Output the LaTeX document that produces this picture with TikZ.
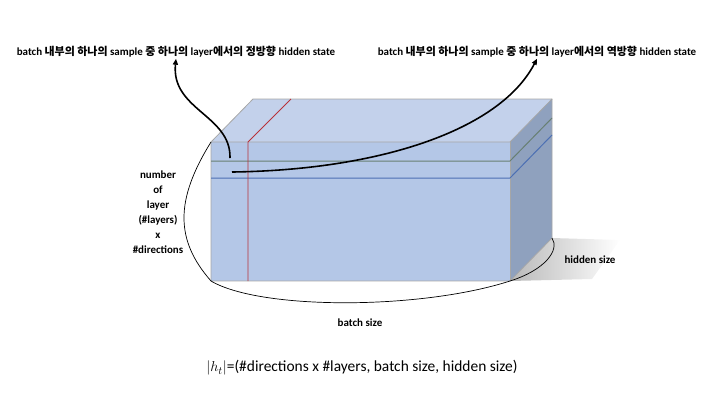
\documentclass[tikz,border=0pt]{standalone}
\usepackage{fontspec}
\setmainfont{Carlito}
\newfontfamily\kr{Noto Sans CJK KR}
\usetikzlibrary{arrows.meta}

\definecolor{frontblue}{HTML}{B4C7E7}
\definecolor{topblue}{HTML}{C3D1EB}
\definecolor{sideblue}{HTML}{8FA1BE}
\definecolor{edgegray}{HTML}{A6A6A6}
\definecolor{layergreen}{HTML}{687F72}
\definecolor{layerblue}{HTML}{4C6FB3}
\definecolor{batchred}{HTML}{B8323A}

\begin{document}
\begin{tikzpicture}[x=1bp,y=-1bp,
    lbl/.style={font=\fontsize{11}{15}\selectfont\bfseries,align=center,inner sep=1pt},
    brace/.style={black,line width=0.7pt},
    hsarrow/.style={black,line width=1.6pt,-{Triangle[length=6pt,width=5pt]}}]
    \useasboundingbox (0,0) rectangle (720,405);

    % shadow
    \shade[left color=gray!55,right color=white] (510,281) -- (552,238) -- (620,240) -- (592,279) -- cycle;

    % box
    \fill[topblue] (211,142) -- (253,99) -- (552,99) -- (510,142) -- cycle;
    \fill[frontblue] (211,142) rectangle (510,281);
    \fill[sideblue] (510,142) -- (552,99) -- (552,238) -- (510,281) -- cycle;
    \draw[edgegray,line width=0.8pt] (211,142) -- (253,99) -- (552,99) -- (552,238) -- (510,281) -- (211,281) -- cycle;
    \draw[edgegray,line width=0.8pt] (211,142) -- (510,142) -- (552,99);
    \draw[edgegray,line width=0.8pt] (510,142) -- (510,281);

    % layers
    \draw[layergreen,line width=1pt] (211,161) -- (510,161) -- (552,118);
    \draw[layerblue,line width=1pt] (211,178) -- (510,178) -- (552,135);
    \draw[batchred,line width=0.9pt] (248,281) -- (248,142) -- (291,99);

    % labels
    \node[lbl] (fwd) at (176,52) {batch {\kr 내부의 하나의} sample {\kr 중 하나의} layer{\kr 에서의 정방향} hidden state};
    \node[lbl] (bwd) at (537,52) {batch {\kr 내부의 하나의} sample {\kr 중 하나의} layer{\kr 에서의 역방향} hidden state};
    \node[lbl] (nlayer) at (158,212) {number\\of\\layer\\(\#layers)\\x\\\#directions};
    \node[lbl] (hsize) at (590,260) {hidden size};
    \node[lbl] (bsize) at (360,323) {batch size};
    \node (shape) at (362,368) {\fontsize{15.5}{18}\selectfont$|h_t|$=(\#directions x \#layers, batch size, hidden size)};

    % braces
    \coordinate (tl) at (211,142);
    \coordinate (bl) at (211,281);
    \coordinate (br) at (510,281);
    \coordinate (bb) at (552,238);
    \draw[brace] (tl) .. controls (175,200) and (175,240) .. (bl);
    \draw[brace] (bl) .. controls (260,310) and (420,310) .. (br);
    \draw[brace] (br) .. controls (545,270) and (560,250) .. (bb);

    % arrows
    \coordinate (fs) at (230,158);
    \coordinate (bs) at (232,172);
    \draw[hsarrow] (fs) .. controls (231,115) and (171,110) .. (fwd.south);
    \draw[hsarrow] (bs) .. controls (380,170) and (500,130) .. (bwd.south);
\end{tikzpicture}
\end{document}
